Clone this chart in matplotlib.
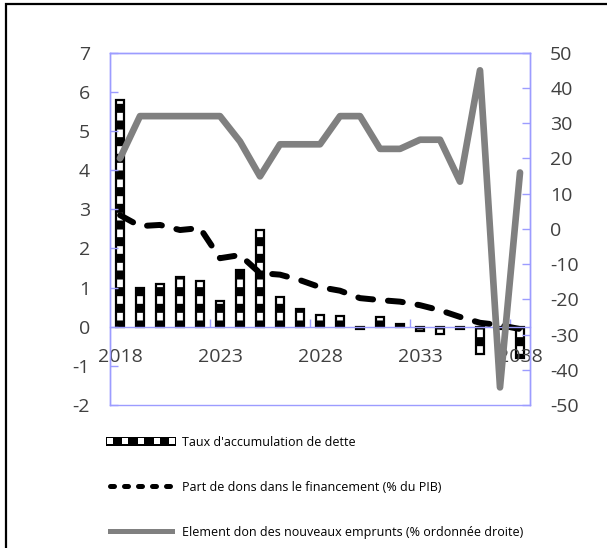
import matplotlib
matplotlib.use("Agg")
import matplotlib.pyplot as plt
import numpy as np
from matplotlib.lines import Line2D
from matplotlib.patches import Patch, Rectangle
from matplotlib.ticker import FixedLocator

plt.rcParams["font.family"] = ["Open Sans", "DejaVu Sans"]
plt.rcParams["hatch.linewidth"] = 6.5
plt.rcParams["hatch.color"] = "black"

# Data
years = list(range(2018, 2039))
debt_accumulation = [5.78, 0.98, 1.08, 1.27, 1.18, 0.65, 1.44, 2.48, 0.77, 0.44,
                     0.29, 0.27, -0.07, 0.25, 0.08, -0.11, -0.19, -0.07, -0.70,
                     -0.05, -0.80]
grant_share = [2.85, 2.57, 2.60, 2.47, 2.52, 1.75, 1.83, 1.37, 1.33, 1.19,
               1.01, 0.92, 0.73, 0.68, 0.64, 0.55, 0.42, 0.25, 0.10, 0.04, -0.06]
grant_element = [20, 32, 32, 32, 32, 32, 24.8, 14.9, 24, 24, 24, 32, 32, 22.7,
                 22.7, 25.3, 25.3, 13.4, 45, -45, 16]

label_step = 5
left_ticks = list(range(-2, 8))
right_ticks = list(range(-50, 60, 10))

labels = ["Taux d'accumulation de dette",
          "Part de dons dans le financement (% du PIB)",
          "Element don des nouveaux emprunts (% ordonnée droite)"]

frame_col = "#9c9cff"
text_col = "#404040"
gray = "#808080"

W, H = 607, 548
fig = plt.figure(figsize=(W / 100, H / 100), dpi=100)
ax = fig.add_axes([110 / W, (H - 405) / H, 420 / W, 352.3 / H])
x = np.arange(len(years))

# Bars: white cells between thick black bands
ax.bar(x, debt_accumulation, width=0.37, facecolor="white", edgecolor="black",
       linewidth=1.6, hatch="-", zorder=1)

ax.plot(x, grant_share, color="black", lw=4.3, ls=(0, (2.5, 2.5)),
        dash_capstyle="round", solid_capstyle="round", zorder=2)

ax.set_xlim(-0.5, len(years) - 0.5)
ax.set_ylim(left_ticks[0], left_ticks[-1])
ax.set_yticks(left_ticks)
ax.set_yticklabels([str(v) for v in left_ticks])

major = x[::label_step]
ax.xaxis.set_major_locator(FixedLocator(major))
ax.set_xticklabels([str(years[i]) for i in major])
ax.xaxis.set_minor_locator(FixedLocator(major[1:] - 0.5))
ax.spines["bottom"].set_position(("data", 0))
for s in ax.spines.values():
    s.set_color(frame_col)
    s.set_linewidth(1)

ax.tick_params(axis="x", which="major", length=0, pad=15.5,
               labelsize=14, labelcolor=text_col)
ax.tick_params(axis="x", which="minor", direction="in", length=5.8,
               color=frame_col, width=1)
ax.tick_params(axis="y", direction="in", length=5.8, color=frame_col, width=1,
               pad=14.5, labelsize=14, labelcolor=text_col)

ax2 = ax.twinx()
ax2.plot(x, grant_element, color=gray, lw=4.8, solid_capstyle="round",
         solid_joinstyle="round", zorder=3)
ax2.set_ylim(right_ticks[0], right_ticks[-1])
ax2.set_yticks(right_ticks)
ax2.set_yticklabels([str(v) for v in right_ticks])
for s in ax2.spines.values():
    s.set_color(frame_col)
    s.set_linewidth(1)
ax2.tick_params(axis="y", direction="in", length=5.8, color=frame_col, width=1,
                pad=14.5, labelsize=14, labelcolor=text_col)

# Legend keys
bar_key = (Patch(facecolor="black", edgecolor="black", linewidth=0),
           Line2D([], [], ls="none", marker="s", markersize=4.2,
                  markerfacecolor="white", markeredgewidth=0))
dash_key = Line2D([], [], color="black", lw=3.6, ls=(0, (0.8, 2.0)),
                  dash_capstyle="round")
line_key = Line2D([], [], color=gray, lw=3.6)
fig.legend([bar_key, dash_key, line_key], labels,
           loc="upper left", bbox_to_anchor=(106 / W, 1 - 435.7 / H),
           frameon=False, fontsize=9, numpoints=5, handlelength=5.6,
           handleheight=0.7, handletextpad=0.5, labelspacing=2.56,
           borderpad=0, borderaxespad=0, labelcolor="black")

# Outer border
fig.add_artist(Rectangle((6 / W, -0.1), 2, (H - 3.7) / H + 0.1,
                         transform=fig.transFigure, fill=False,
                         edgecolor="black", linewidth=1.6))

fig.savefig("out.png", dpi=100)
